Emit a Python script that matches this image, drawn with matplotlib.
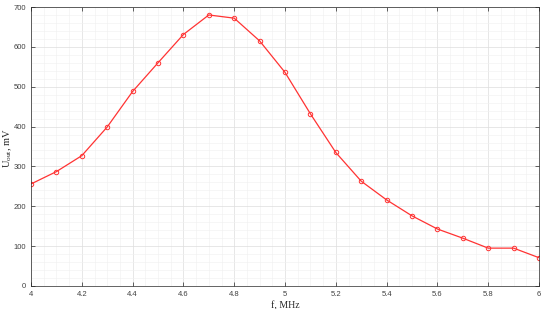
import numpy as np
import matplotlib
matplotlib.use('Agg')
import matplotlib.pyplot as plt
from matplotlib.ticker import MultipleLocator

# frequency, MHz and output voltage, mV
freq = [4.0, 4.1, 4.2, 4.3, 4.4, 4.5, 4.6, 4.7, 4.8, 4.9, 5.0,
        5.1, 5.2, 5.3, 5.4, 5.5, 5.6, 5.7, 5.8, 5.9, 6.0]
u_out = [256, 287, 327, 399, 488, 560, 631, 680, 672, 615, 536,
         432, 335, 263, 216, 176, 143, 120, 95, 95, 71]
xticks = [4, 4.2, 4.4, 4.6, 4.8, 5, 5.2, 5.4, 5.6, 5.8, 6]
xticklabels = ['4', '4.2', '4.4', '4.6', '4.8', '5', '5.2', '5.4', '5.6', '5.8', '6']
yticks = [0, 100, 200, 300, 400, 500, 600, 700]

fig = plt.figure(figsize=(5.5, 3.09), dpi=100)
ax = fig.add_axes([31/550, 1-286/309, 508/550, 279/309])

ax.plot(freq, u_out, color='#ff3333', lw=0.9, marker='o', ms=3.2,
        mfc='none', mec='#ff3333', mew=0.7)

ax.set_xlim(4, 6)
ax.set_ylim(0, 700)
ax.set_xticks(xticks)
ax.set_xticklabels(xticklabels)
ax.set_yticks(yticks)
ax.xaxis.set_minor_locator(MultipleLocator(0.05))
ax.yaxis.set_minor_locator(MultipleLocator(20))
ax.grid(which='major', color='#dddddd', lw=0.5)
ax.grid(which='minor', color='#f0f0f0', lw=0.4)
ax.set_axisbelow(True)
ax.tick_params(which='both', direction='in', top=True, right=True,
               labelsize=5.5, labelcolor='#404040', color='#262626', width=0.5)
ax.tick_params(which='major', length=3)
ax.tick_params(which='minor', length=0)
for lbl in ax.get_xticklabels() + ax.get_yticklabels():
    lbl.set_family('Liberation Sans')
for s in ax.spines.values():
    s.set_color('#262626')
    s.set_linewidth(0.5)

ax.set_xlabel('f, MHz', family='Liberation Serif', fontsize=7, labelpad=2,
              color='#262626')
fig.text(8/550, 1-148/309, r'U$_{\mathregular{out}}$, mV', family='Liberation Serif',
         fontsize=7.5, color='#262626', rotation=90, ha='center', va='center')

plt.savefig('out.png', dpi=100)
plt.close()
